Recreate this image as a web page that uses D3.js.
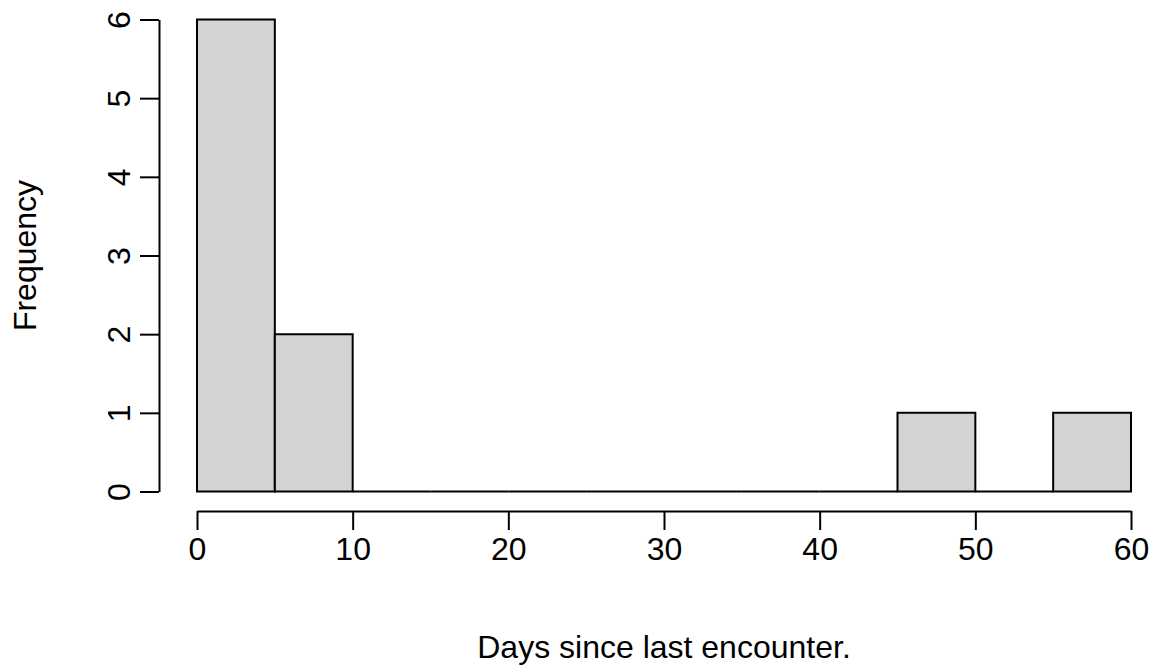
<!DOCTYPE html>
<html>
<head>
<meta charset="utf-8">
<script src="https://cdn.jsdelivr.net/npm/d3@7"></script>
<style>
  body { margin: 0; background: #fff; }
  text { font-family: "Liberation Sans", Arial, sans-serif; fill: #000; }
</style>
</head>
<body>
<svg id="hist"></svg>
<script>
// histogram bins (5 days wide) and their counts
var binStarts = [0, 5, 10, 15, 20, 25, 30, 35, 40, 45, 50, 55];
var binWidth = 5;
var counts = [6, 2, 0, 0, 0, 0, 0, 0, 0, 1, 0, 1];
var xTicks = [0, 10, 20, 30, 40, 50, 60];
var yTicks = [0, 1, 2, 3, 4, 5, 6];

var width = 1155;
var height = 665;
var fontSize = 32;

var xScale = d3.scaleLinear()
    .domain([0, 60])
    .range([197, 1131]);
var yScale = d3.scaleLinear()
    .domain([0, 6])
    .range([491.5, 19.5]);

var svg = d3.select("#hist")
    .attr('width', width)
    .attr('height', height);

var bins = binStarts.map(function(s, i){ return {x0: s, x1: s + binWidth, n: counts[i]}; });

// paths instead of rects so empty bins still show as a line on 0
svg.append('g')
    .selectAll('path')
    .data(bins)
    .enter()
    .append('path')
    .attr('d', function(d){
        var a = xScale(d.x0), b = xScale(d.x1), y0 = yScale(0), y1 = yScale(d.n);
        return 'M' + a + ',' + y0 + 'V' + y1 + 'H' + b + 'V' + y0 + 'Z';
    })
    .attr('fill', '#d3d3d3')
    .attr('stroke', '#000')
    .attr('stroke-width', 2)
    .attr('stroke-linejoin', 'miter');

// x axis, R style: line only across tick range
var xAxis = d3.axisBottom(xScale)
    .tickValues(xTicks)
    .tickFormat(d3.format('d'))
    .tickSize(19)
    .tickSizeOuter(0);
var gx = svg.append('g')
    .attr('transform', 'translate(0,511)')
    .call(xAxis);
gx.attr('font-family', null).attr('font-size', fontSize);
gx.select('.domain').attr('stroke-width', 2);
gx.selectAll('.tick line').attr('stroke-width', 2);
gx.selectAll('.tick text').attr('y', 49).attr('dy', 0);

var yAxis = d3.axisLeft(yScale)
    .tickValues(yTicks)
    .tickFormat(d3.format('d'))
    .tickSize(19)
    .tickSizeOuter(0);
var gy = svg.append('g')
    .attr('transform', 'translate(159,0)')
    .call(yAxis);
gy.attr('font-family', null).attr('font-size', fontSize);
gy.select('.domain').attr('stroke-width', 2);
gy.selectAll('.tick line').attr('stroke-width', 2);
gy.selectAll('.tick text')
    .attr('x', 0)
    .attr('dy', 0)
    .attr('text-anchor', 'middle')
    .attr('transform', 'translate(-29,0) rotate(-90)');
svg.selectAll('.domain').attr('stroke', '#000');

svg.append('text')
    .attr('x', (xScale(0) + xScale(60)) / 2)
    .attr('y', 658)
    .attr('text-anchor', 'middle')
    .attr('font-size', fontSize)
    .text('Days since last encounter.');

svg.append('text')
    .attr('transform', 'translate(36,' + ((yScale(0) + yScale(6)) / 2) + ') rotate(-90)')
    .attr('text-anchor', 'middle')
    .attr('font-size', fontSize)
    .text('Frequency');
</script>
</body>
</html>
